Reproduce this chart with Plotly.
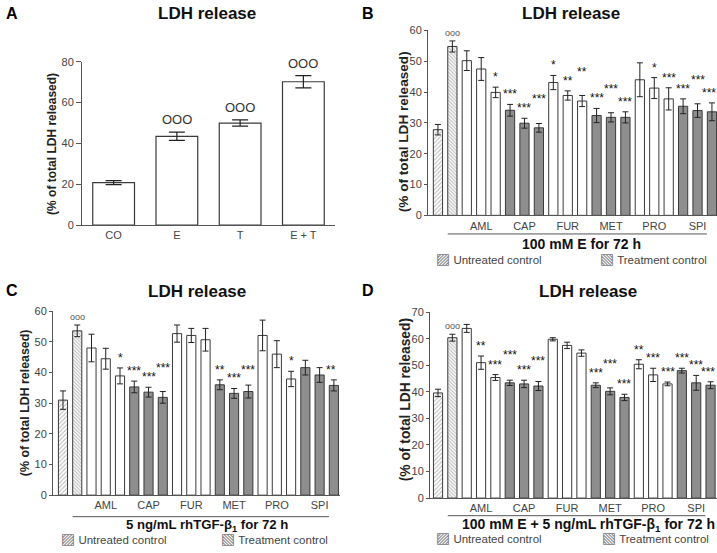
import plotly.graph_objects as go

# panel A
a_groups = ["CO", "E", "T", "E + T"]
a_means = [20.8, 43.5, 50.0, 70.2]
a_errs = [1.0, 2.0, 1.5, 3.0]
a_marks = ["", "OOO", "OOO", "OOO"]

# panels B-D: untreated control, treatment control, then 3 doses per drug
drugs = ["AML", "CAP", "FUR", "MET", "PRO", "SPI"]

b_means = [27.8, 54.8, 50.2, 47.5, 39.9, 34.1, 29.9, 28.4, 43.1, 38.9,
           37.1, 32.4, 31.8, 31.8, 44.0, 41.3, 37.8, 35.4, 34.0, 33.6]
b_errs = [1.7, 1.8, 3.2, 3.7, 1.7, 1.9, 1.6, 1.4, 2.3, 1.5,
          1.8, 2.3, 1.5, 1.8, 5.5, 3.4, 3.6, 2.4, 2.2, 2.9]
b_marks = ["", "ooo", "", "", "*", "***", "***", "***", "*", "**",
           "**", "***", "***", "***", "", "*", "***", "***", "***", "***"]

c_means = [31.0, 53.6, 48.0, 44.5, 38.9, 35.3, 33.6, 31.9, 52.7, 52.1,
           50.7, 36.0, 33.2, 33.8, 52.1, 46.0, 37.9, 41.6, 39.2, 35.8]
c_errs = [3.0, 1.9, 4.5, 3.4, 2.6, 1.9, 1.6, 1.9, 2.8, 2.3,
          3.7, 1.6, 1.6, 2.1, 5.0, 4.4, 2.5, 2.4, 2.4, 1.8]
c_marks = ["", "ooo", "", "", "*", "***", "***", "***", "", "",
           "", "**", "***", "***", "", "", "*", "", "", "**"]

d_means = [39.6, 60.4, 63.9, 51.0, 45.4, 43.4, 43.0, 42.2, 59.8, 57.5,
           54.6, 42.5, 40.2, 37.9, 50.4, 46.4, 43.0, 48.0, 43.4, 42.5]
d_errs = [1.4, 1.3, 1.5, 2.5, 1.1, 1.0, 1.4, 1.7, 0.6, 1.2,
          1.2, 0.9, 1.3, 1.2, 1.7, 2.5, 0.7, 0.9, 2.8, 1.3]
d_marks = ["", "ooo", "", "**", "***", "***", "***", "***", "", "",
           "", "***", "***", "***", "**", "***", "***", "***", "***", "***"]

subtitles = ["100 mM E for 72 h",
             "5 ng/mL rhTGF-β<sub>1</sub> for 72 h",
             "100 mM E + 5 ng/mL rhTGF-β<sub>1</sub> for 72 h"]
legend_names = ["Untreated control", "Treatment control"]

W, H = 717, 553
FONT = "Liberation Sans, Arial, sans-serif"
OUTLINE = "#3a3a3a"
GRAY = "#8e8e8e"


def px(x):
    return x / W


def py(y):
    return 1 - y / H


fig = go.Figure()

# ---- panel A
fig.add_trace(go.Bar(
    x=list(range(len(a_groups))), y=a_means, width=0.66,
    marker=dict(color="white", line=dict(color=OUTLINE, width=1.2)),
    error_y=dict(type="data", array=a_errs, color="#222", thickness=1.2, width=8),
    showlegend=False, xaxis="x", yaxis="y",
))
for i, m in enumerate(a_marks):
    if m:
        fig.add_annotation(x=i, y=a_means[i] + a_errs[i], xref="x", yref="y",
                           text=m, showarrow=False, yanchor="bottom", yshift=3,
                           font=dict(size=13, color="#333"))

# (axis suffix, data, y range top, plot height in px)
panels = [
    ("2", b_means, b_errs, b_marks, 60, 189),
    ("3", c_means, c_errs, c_marks, 60, 188),
    ("4", d_means, d_errs, d_marks, 70, 190),
]
for n, means, errs, marks, ytop, hpx in panels:
    xa, ya = "x" + n, "y" + n
    eb = dict(color="#222", thickness=1, width=3)
    fig.add_trace(go.Bar(
        x=[0], y=[means[0]], width=0.64, name=legend_names[0],
        marker=dict(color="white", line=dict(color=OUTLINE, width=1),
                    pattern=dict(shape="/", fgcolor="#777", bgcolor="white", size=3, solidity=0.35)),
        error_y=dict(type="data", array=[errs[0]], **eb),
        xaxis=xa, yaxis=ya, showlegend=False,
    ))
    fig.add_trace(go.Bar(
        x=[1], y=[means[1]], width=0.64, name=legend_names[1],
        marker=dict(color="white", line=dict(color=OUTLINE, width=1),
                    pattern=dict(shape="\\", fgcolor="#666", bgcolor="white", size=2.5, solidity=0.4)),
        error_y=dict(type="data", array=[errs[1]], **eb),
        xaxis=xa, yaxis=ya, showlegend=False,
    ))
    xs = list(range(2, len(means)))
    fills = ["white" if ((i - 2) // 3) % 2 == 0 else GRAY for i in xs]
    fig.add_trace(go.Bar(
        x=xs, y=means[2:], width=0.64,
        marker=dict(color=fills, line=dict(color=OUTLINE, width=1)),
        error_y=dict(type="data", array=errs[2:], **eb),
        xaxis=xa, yaxis=ya, showlegend=False,
    ))
    # significance marks; lift a mark when it would collide with its neighbour's
    ppu = hpx / ytop
    prev = None
    for i, m in enumerate(marks):
        if not m:
            prev = None
            continue
        top = (means[i] + errs[i]) * ppu
        shift = 1
        if prev is not None and abs(top + shift - prev) < 6:
            shift = prev + 9 - top
        prev = top + shift
        if m == "ooo":
            f = dict(size=9, color="#555")
        else:
            f = dict(size=12, color="#111")
        last = i == len(marks) - 1
        fig.add_annotation(x=i, y=means[i] + errs[i], xref=xa, yref=ya,
                           text=m, showarrow=False, yanchor="bottom", yshift=shift,
                           xshift=-3 if last else 0, font=f)

axis_common = dict(showgrid=False, zeroline=False, showline=True, linecolor="#555",
                   linewidth=1, tickfont=dict(size=11, color="#444", family=FONT))

group_ticks = [2 + 3 * g + 1 for g in range(len(drugs))]

layout = dict(
    width=W, height=H, margin=dict(l=0, r=0, t=0, b=0),
    plot_bgcolor="white", paper_bgcolor="white", showlegend=False,
    font=dict(family=FONT, color="#222"), barmode="overlay",
    xaxis=dict(domain=[px(82), px(335)], range=[-0.5, 3.5], anchor="y",
               tickvals=list(range(len(a_groups))), ticktext=a_groups, ticks="", **axis_common),
    yaxis=dict(domain=[py(224), py(57)], range=[0, 80], anchor="x",
               tickvals=[0, 20, 40, 60, 80], ticks="outside", ticklen=5, tickcolor="#555", **axis_common),
    xaxis2=dict(domain=[px(428), 1.0], range=[-0.69, 19.35], anchor="y2",
                tickvals=group_ticks, ticktext=drugs, ticks="", **axis_common),
    yaxis2=dict(domain=[py(214), py(25)], range=[0, 60], anchor="x2",
                tickvals=list(range(0, 61, 10)), ticks="outside", ticklen=3, tickcolor="#555", **axis_common),
    xaxis3=dict(domain=[px(53), px(340)], range=[-0.70, 19.43], anchor="y3",
                tickvals=group_ticks, ticktext=drugs, ticks="", **axis_common),
    yaxis3=dict(domain=[py(500), py(312)], range=[0, 60], anchor="x3",
                tickvals=list(range(0, 61, 10)), ticks="outside", ticklen=3, tickcolor="#555", **axis_common),
    xaxis4=dict(domain=[px(430), 1.0], range=[-0.56, 19.45], anchor="y4",
                tickvals=group_ticks, ticktext=drugs, ticks="", **axis_common),
    yaxis4=dict(domain=[py(503), py(313)], range=[0, 70], anchor="x4",
                tickvals=list(range(0, 71, 10)), ticks="outside", ticklen=3, tickcolor="#555", **axis_common),
)
fig.update_layout(**layout)

# titles, panel letters
titles = [("A", 4, 8, 207, 8), ("B", 360, 8, 571, 8), ("C", 4, 291, 197, 292), ("D", 360, 291, 588, 292)]
for letter, lx, ly, tx, ty in titles:
    fig.add_annotation(x=px(lx), y=py(ly), xref="paper", yref="paper", text="<b>%s</b>" % letter,
                       showarrow=False, xanchor="left", yanchor="middle", font=dict(size=16, color="#000"))
    fig.add_annotation(x=px(tx), y=py(ty), xref="paper", yref="paper", text="<b>LDH release</b>",
                       showarrow=False, xanchor="center", yanchor="middle", font=dict(size=17, color="#111"))

# y titles: (x, y, font size)
ytitles = [(52, 141, 12), (403, 129, 13.6), (25, 406, 12.4), (405, 403, 13.8)]
for tx, ty, fs in ytitles:
    fig.add_annotation(x=px(tx), y=py(ty), xref="paper", yref="paper",
                       text="<b>(% of total LDH released)</b>", textangle=-90, showarrow=False,
                       xanchor="center", yanchor="middle", font=dict(size=fs, color="#222"))

# subtitle with underline, plus the control legend under B, C and D
sub_pos = [("x2", 233, 243, 581, 14, 259, 434, 598),
           ("x3", 522, 531, 207, 13.2, 545, 59, 219),
           ("x4", 521, 531, 588, 14, 544, 434, 600)]
glyphs = ["\u25a8", "\u25a7"]
for (xa, ly, sy, sx, sfs, gy, g1, g2), text in zip(sub_pos, subtitles):
    fig.add_shape(type="line", xref=xa, yref="paper", x0=0.68, x1=18.65, y0=py(ly), y1=py(ly),
                  line=dict(color="#555", width=1))
    fig.add_annotation(x=px(sx), y=py(sy), xref="paper", yref="paper", text="<b>%s</b>" % text,
                       showarrow=False, xanchor="center", yanchor="middle", font=dict(size=sfs, color="#111"))
    for gx, glyph, name in zip((g1, g2), glyphs, legend_names):
        fig.add_annotation(x=px(gx), y=py(gy), xref="paper", yref="paper",
                           text="<span style='font-family:DejaVu Sans;color:#777;font-size:15px'>%s</span>"
                                " %s" % (glyph, name),
                           showarrow=False, xanchor="left", yanchor="middle",
                           font=dict(size=11.5, color="#444"))

fig.write_html("out.html", config={"displayModeBar": False},
               post_script="document.body.style.margin='0';")
